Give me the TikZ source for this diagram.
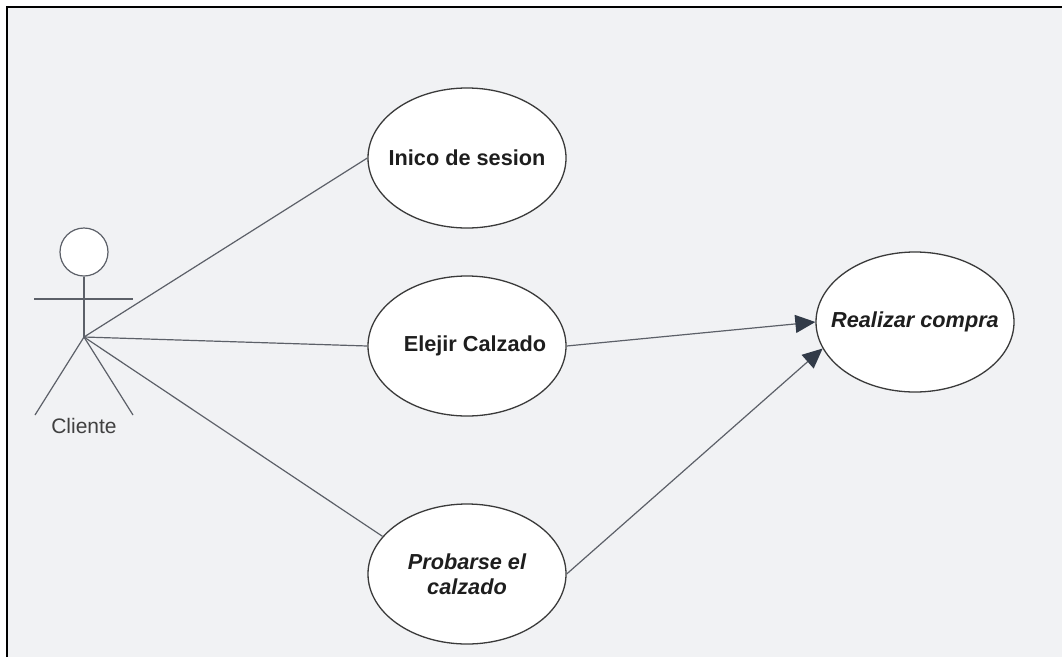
\documentclass[tikz,border=0pt]{standalone}
\usepackage{fontspec}
\setmainfont{Liberation Sans}
\usetikzlibrary{arrows.meta,shapes.geometric}
\definecolor{bg}{HTML}{F1F2F4}
\definecolor{lnk}{HTML}{5C6068}
\definecolor{ucline}{HTML}{3A3A3A}
\definecolor{tip}{HTML}{323B48}
\definecolor{txt}{HTML}{1E1E1E}
\tikzset{
  uc/.style={ellipse, draw=ucline, fill=white, line width=1.3pt, minimum width=198pt, minimum height=140pt, inner sep=0pt},
  uctxt/.style={font=\fontsize{21.7}{25}\selectfont\bfseries, text=txt, align=center, inner sep=0pt},
  uctxti/.style={uctxt, font=\fontsize{21.7}{25}\selectfont\bfseries\itshape},
  assoc/.style={draw=lnk, line width=1.2pt},
  inc/.style={assoc, -{Triangle[length=20pt, width=18pt, color=tip]}},
}

\begin{document}
\begin{tikzpicture}[x=1pt, y=-1pt]
  \useasboundingbox (0,0) rectangle (1062,657);
  \fill[bg] (7,7) rectangle (1062,657);
  \draw[line width=2.5pt] (7,657) -- (7,7) -- (1062,7);

  % actor
  \node[circle, draw=lnk, fill=white, line width=1.2pt, minimum size=48pt, inner sep=0pt] (head) at (84,252) {};
  \coordinate (hip) at (84,337);
  \coordinate (armL) at (34,299);
  \coordinate (armR) at (133,299);
  \coordinate (footL) at (35,415);
  \coordinate (footR) at (133,415);
  \draw[assoc] (head.south) -- (hip);
  \draw[assoc] (armL) -- (armR);
  \draw[assoc] (hip) -- (footL);
  \draw[assoc] (hip) -- (footR);
  \node[font=\fontsize{21}{25}\selectfont, text=txt!85, anchor=base] (cliente) at (84,433) {Cliente};

  % use cases
  \node[uc, label={[uctxt]center:Inico de sesion}] (inicio) at (467,158) {};
  \node[uc, label={[uctxt, xshift=8pt]center:Elejir Calzado}] (elegir) at (467,346) {};
  \node[uc, label={[uctxti]center:{Probarse el\\calzado}}] (probar) at (467,574) {};
  \node[uc, label={[uctxti]center:Realizar compra}] (compra) at (915,322) {};

  \draw[assoc] (hip) -- (inicio.west);
  \draw[assoc] (hip) -- (elegir.west);
  \draw[assoc] (hip) -- (probar.156);
  \draw[inc] (elegir.east) -- (compra.west);
  \draw[inc] (probar.east) -- (compra.196);
\end{tikzpicture}
\end{document}
